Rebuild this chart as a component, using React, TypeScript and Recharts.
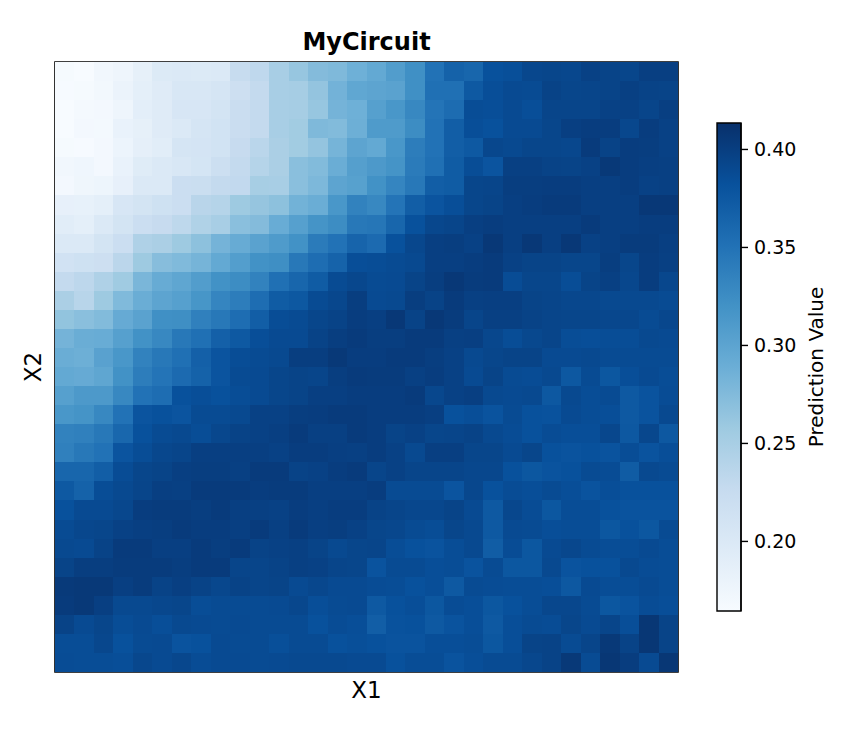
import { Bar, BarChart, ReferenceArea, Scatter, ScatterChart, XAxis, YAxis } from 'recharts';

const FONT = '"DejaVu Sans", sans-serif';
const GRID_SIZE = 32;
const MIN_VALUE = 0.1645;
const MAX_VALUE = 0.4135;

// prediction value x 1000, top row of the picture first
const rows: number[][] = [
  [167,165,172,176,186,198,200,198,200,225,232,250,262,274,277,287,295,308,322,350,366,362,382,384,392,393,392,397,395,393,399,399],
  [166,167,171,180,188,195,203,203,207,218,228,250,252,264,284,297,300,302,322,352,352,375,385,389,388,396,393,394,395,398,396,395],
  [165,168,170,176,189,195,205,205,210,222,228,250,252,262,283,287,305,315,330,348,356,386,385,389,385,394,394,394,397,397,394,399],
  [165,170,169,182,186,195,199,207,212,222,228,250,255,277,275,288,310,310,325,350,370,385,382,389,389,393,399,401,401,392,401,397],
  [167,166,170,178,187,192,207,209,212,226,236,248,255,264,282,300,295,315,340,350,370,375,392,390,393,393,392,403,396,401,400,397],
  [172,174,170,182,194,200,203,208,219,228,240,248,270,275,290,306,312,318,342,352,372,386,379,398,398,396,395,397,405,401,399,398],
  [170,175,177,185,200,200,220,221,228,230,251,250,270,278,300,304,320,332,345,370,372,393,394,400,400,401,401,399,399,401,397,398],
  [185,184,188,205,210,216,220,237,240,258,263,268,285,290,315,335,330,348,370,379,385,393,395,399,401,403,403,399,399,399,406,406],
  [192,188,200,210,220,226,233,244,250,270,274,291,305,318,325,345,347,362,382,392,394,399,401,399,399,399,399,403,399,399,401,401],
  [200,200,210,220,245,248,258,268,283,292,302,310,320,342,350,364,358,382,392,399,400,397,406,399,406,399,406,397,399,402,402,399],
  [213,216,218,235,258,272,276,282,295,307,320,323,345,355,365,385,386,388,390,399,399,401,403,397,395,395,393,393,400,393,401,398],
  [228,234,245,256,280,292,298,308,320,325,335,352,362,372,388,392,388,389,395,400,406,402,403,387,393,393,386,395,398,392,401,392],
  [248,238,258,276,290,300,305,316,332,340,355,372,376,388,392,400,389,390,400,396,403,398,399,399,395,394,392,392,390,390,390,388],
  [265,270,275,293,302,322,323,337,345,355,370,386,388,393,396,401,399,406,396,406,402,394,398,398,396,394,393,393,392,392,388,392],
  [283,290,291,305,320,330,345,352,368,375,385,389,389,396,400,403,400,400,403,403,398,399,392,386,391,394,386,385,386,386,390,389],
  [290,288,303,315,335,345,352,368,379,386,388,390,400,400,405,401,401,403,403,400,397,390,393,395,395,389,389,390,388,388,388,388],
  [295,293,298,320,340,348,358,366,379,388,389,393,395,394,400,403,402,402,398,401,397,389,395,388,387,390,376,388,377,385,389,386],
  [305,312,312,330,350,355,382,385,382,386,389,393,395,399,399,401,401,401,403,392,397,399,390,389,390,376,390,386,388,375,380,387],
  [315,318,330,350,379,382,379,388,388,390,397,397,400,401,403,403,401,401,401,399,382,385,380,388,382,381,389,386,385,375,380,390],
  [335,337,345,361,382,388,390,386,392,396,397,399,403,398,398,403,401,395,397,393,394,396,390,387,382,387,385,385,392,376,392,376],
  [337,345,350,379,386,392,394,399,399,399,399,397,401,401,399,398,401,397,390,399,399,393,393,389,393,382,380,382,380,386,380,385],
  [362,362,370,387,393,395,399,400,400,398,403,403,396,397,401,403,394,397,394,394,394,392,392,382,377,380,382,388,387,372,390,388],
  [375,366,386,390,394,399,398,403,403,403,401,402,402,399,399,399,401,388,388,388,379,392,382,387,385,388,385,380,385,382,382,382],
  [382,389,389,392,401,402,402,400,403,399,398,397,401,399,401,401,396,394,392,392,395,389,375,392,387,377,386,386,382,380,380,380],
  [388,392,393,397,399,400,403,401,401,399,403,398,403,399,400,397,393,392,388,386,393,390,375,389,388,385,386,386,377,382,377,388],
  [390,389,396,403,403,399,399,403,400,403,396,397,398,395,390,393,394,386,382,380,386,390,371,387,377,389,392,388,386,386,389,386],
  [395,400,400,402,402,402,400,403,403,394,394,396,398,397,394,393,380,388,388,385,386,380,388,377,377,390,380,382,382,390,387,386],
  [404,405,405,399,402,396,399,396,392,396,394,395,389,392,389,389,387,386,382,385,375,388,387,386,386,385,376,389,386,386,389,386],
  [403,405,399,390,390,392,393,386,388,388,388,389,392,385,388,389,375,382,385,377,387,385,377,382,386,392,392,388,377,380,387,385],
  [396,389,393,386,389,385,390,389,388,389,388,388,388,382,387,385,370,381,382,375,380,385,375,385,388,387,393,389,394,385,407,395],
  [386,386,392,382,388,389,380,382,389,388,388,384,388,388,382,384,382,380,380,385,385,386,377,385,395,396,388,394,405,396,407,395],
  [387,386,386,385,392,389,392,387,389,389,388,389,390,390,390,389,389,382,386,386,380,385,388,388,392,396,405,388,407,401,389,407],
];

const colorbarTicks = [0.2, 0.25, 0.3, 0.35, 0.4];
const blues = ['#f7fbff', '#deebf7', '#c6dbef', '#9ecae1', '#6baed6', '#4292c6', '#2171b5', '#08519c', '#08306b'];

const cells = rows.flatMap((row, r) =>
  row.map((v, c) => ({ x: c + 0.5, y: r + 0.5, value: v / 1000 })),
);

const hexToRgb = (hex: string) => [1, 3, 5].map((i) => parseInt(hex.slice(i, i + 2), 16));

const colorFor = (value: number) => {
  const t = Math.min(1, Math.max(0, (value - MIN_VALUE) / (MAX_VALUE - MIN_VALUE))) * (blues.length - 1);
  const i = Math.min(blues.length - 2, Math.floor(t));
  const a = hexToRgb(blues[i]);
  const b = hexToRgb(blues[i + 1]);
  const mix = a.map((ch, k) => Math.round(ch + (b[k] - ch) * (t - i)));
  return `rgb(${mix.join(',')})`;
};

const PLOT_W = 623;
const PLOT_H = 610;

const HeatCell = (props: any) => {
  const w = PLOT_W / GRID_SIZE;
  const h = PLOT_H / GRID_SIZE;
  return (
    <rect
      x={props.cx - w / 2}
      y={props.cy - h / 2}
      width={w}
      height={h}
      fill={colorFor(props.payload.value)}
      shapeRendering="crispEdges"
    />
  );
};

const colorbarData = [{ name: 'scale', range: [MIN_VALUE, MAX_VALUE] }];

export default function App() {
  return (
    <div style={{ position: 'absolute', left: 0, top: 0, width: 862, height: 729, background: '#fff', fontFamily: FONT }}>
      <div
        style={{
          position: 'absolute',
          left: 55,
          width: PLOT_W,
          top: 28,
          textAlign: 'center',
          fontSize: 24,
          lineHeight: '29px',
          fontWeight: 'bold',
          color: '#000',
        }}
      >
        MyCircuit
      </div>
      <div style={{ position: 'absolute', left: 0, top: 0 }}>
        <ScatterChart width={862} height={729} margin={{ top: 62, right: 184, bottom: 0, left: 0 }}>
          <XAxis
            type="number"
            dataKey="x"
            domain={[0, GRID_SIZE]}
            height={57}
            tick={false}
            tickLine={false}
            axisLine={false}
            label={{ value: 'X1', position: 'insideTop', offset: 10, fontSize: 23, fill: '#000', fontFamily: FONT }}
          />
          <YAxis
            type="number"
            dataKey="y"
            domain={[0, GRID_SIZE]}
            reversed
            width={55}
            tick={false}
            tickLine={false}
            axisLine={false}
            label={{ value: 'X2', angle: -90, position: 'insideLeft', offset: 33, textAnchor: 'middle', fontSize: 23, fill: '#000', fontFamily: FONT }}
          />
          <Scatter data={cells} shape={HeatCell} isAnimationActive={false} />
          <ReferenceArea x1={0} x2={GRID_SIZE} y1={0} y2={GRID_SIZE} fill="none" fillOpacity={0} stroke="#000" strokeWidth={1.6} ifOverflow="visible" />
        </ScatterChart>
      </div>
      <div style={{ position: 'absolute', left: 0, top: 0 }}>
        <BarChart
          width={862}
          height={729}
          data={colorbarData}
          barCategoryGap={0}
          margin={{ top: 123, right: 0, bottom: 118, left: 717 }}
        >
          <defs>
            <linearGradient id="bluesRamp" x1="0" y1="1" x2="0" y2="0">
              {blues.map((c, i) => (
                <stop key={c} offset={i / (blues.length - 1)} stopColor={c} />
              ))}
            </linearGradient>
          </defs>
          <XAxis dataKey="name" hide />
          <YAxis
            orientation="right"
            type="number"
            width={121}
            domain={[MIN_VALUE, MAX_VALUE]}
            ticks={colorbarTicks}
            tickFormatter={(v: number) => v.toFixed(2)}
            tick={{ fontSize: 19, fill: '#000', fontFamily: FONT }}
            tickSize={7}
            tickMargin={6}
            tickLine={{ stroke: '#000', strokeWidth: 1.4 }}
            axisLine={{ stroke: '#000', strokeWidth: 1.4 }}
            label={{ value: 'Prediction Value', angle: -90, position: 'insideRight', offset: 46, textAnchor: 'middle', fontSize: 20, fill: '#000', fontFamily: FONT }}
          />
          <Bar dataKey="range" fill="url(#bluesRamp)" stroke="#000" strokeWidth={1.4} isAnimationActive={false} />
        </BarChart>
      </div>
    </div>
  );
}
